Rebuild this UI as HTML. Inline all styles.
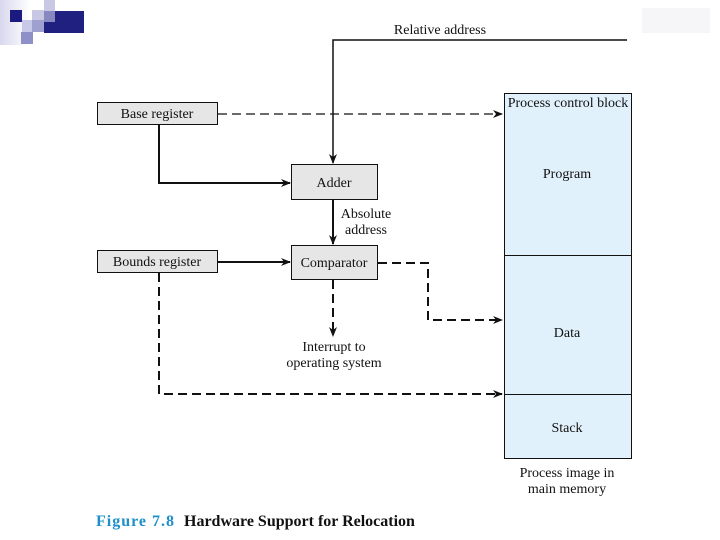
<!DOCTYPE html>
<html><head><meta charset="utf-8"><style>
html,body{margin:0;padding:0;background:#fff;}
svg{display:block;}
text{font-family:"Liberation Serif",serif;fill:#111;}
</style></head><body>
<svg width="720" height="540" viewBox="0 0 720 540" xmlns="http://www.w3.org/2000/svg">
<defs>
<marker id="a" markerWidth="10" markerHeight="8" refX="9" refY="4" orient="auto" markerUnits="userSpaceOnUse">
<path d="M0,0 L10,4 L0,8 L3,4 Z" fill="#111"/></marker>
<linearGradient id="g" x1="0" x2="1"><stop offset="0" stop-color="#d8d8ee"/><stop offset="1" stop-color="#fff"/></linearGradient>
</defs>
<rect x="0" y="0" width="30" height="45" fill="url(#g)"/>
<rect x="10" y="10" width="12" height="12" fill="#1a1a80"/>
<rect x="22" y="20" width="12" height="12" fill="#c8c8e8"/>
<rect x="32" y="10" width="12" height="12" fill="#c8c8e4"/>
<rect x="32" y="20" width="12" height="12" fill="#a0a0d0"/>
<rect x="44" y="0" width="11" height="11" fill="#c8c8e4"/>
<rect x="44" y="11" width="40" height="22" fill="#202080"/>
<rect x="44" y="11" width="11" height="11" fill="#8888c0"/>
<rect x="21" y="32" width="12" height="12" fill="#9090c8"/>
<rect x="642" y="8" width="68" height="25" fill="#f6f6f8"/>

<rect x="504.5" y="93.5" width="127" height="365" fill="#e1f1fb" stroke="#111"/>
<line x1="505" y1="255.5" x2="631" y2="255.5" stroke="#111"/>
<line x1="505" y1="394.5" x2="631" y2="394.5" stroke="#111"/>
<g font-size="14" text-anchor="middle">
<text x="568" y="107">Process control block</text>
<text x="567" y="178">Program</text>
<text x="567" y="337">Data</text>
<text x="567" y="432">Stack</text>
<text x="567" y="477">Process image in</text>
<text x="567" y="493">main memory</text>
</g>

<rect x="97.5" y="102.5" width="120" height="22" fill="#e6e6e6" stroke="#111"/>
<text x="157" y="118" font-size="14" text-anchor="middle">Base register</text>
<rect x="97.5" y="250.5" width="120" height="22" fill="#e6e6e6" stroke="#111"/>
<text x="157" y="266" font-size="14" text-anchor="middle">Bounds register</text>
<rect x="291.5" y="164.5" width="86" height="35" fill="#e6e6e6" stroke="#111"/>
<text x="334" y="187" font-size="14" text-anchor="middle">Adder</text>
<rect x="291.5" y="245.5" width="86" height="34" fill="#e6e6e6" stroke="#111"/>
<text x="334" y="267" font-size="14" text-anchor="middle">Comparator</text>

<text x="440" y="34" font-size="14" text-anchor="middle">Relative address</text>
<polyline points="627,40 333,40 333,163" fill="none" stroke="#111" stroke-width="1.5" marker-end="url(#a)"/>
<line x1="218" y1="114" x2="502" y2="114" stroke="#111" stroke-width="1.2" stroke-dasharray="9,5" marker-end="url(#a)"/>
<polyline points="159,125 159,183 290,183" fill="none" stroke="#111" stroke-width="2" marker-end="url(#a)"/>
<line x1="333" y1="200" x2="333" y2="244" stroke="#111" stroke-width="2" marker-end="url(#a)"/>
<text x="366" y="218" font-size="14" text-anchor="middle">Absolute</text>
<text x="366" y="234" font-size="14" text-anchor="middle">address</text>
<line x1="218" y1="262" x2="290" y2="262" stroke="#111" stroke-width="2" marker-end="url(#a)"/>
<polyline points="378,263 428,263 428,320 502,320" fill="none" stroke="#111" stroke-width="2" stroke-dasharray="9,5" marker-end="url(#a)"/>
<line x1="333" y1="280" x2="333" y2="336" stroke="#111" stroke-width="2" stroke-dasharray="9,5" marker-end="url(#a)"/>
<text x="334" y="351" font-size="14" text-anchor="middle">Interrupt to</text>
<text x="334" y="367" font-size="14" text-anchor="middle">operating system</text>
<polyline points="159,273 159,394 502,394" fill="none" stroke="#111" stroke-width="2" stroke-dasharray="9,5" marker-end="url(#a)"/>

<text x="96" y="526" font-size="16" font-weight="bold" letter-spacing="1" style="fill:#1f8fc8">Figure 7.8</text>
<text x="184" y="526" font-size="16" font-weight="bold">Hardware Support for Relocation</text>
</svg>
</body></html>
